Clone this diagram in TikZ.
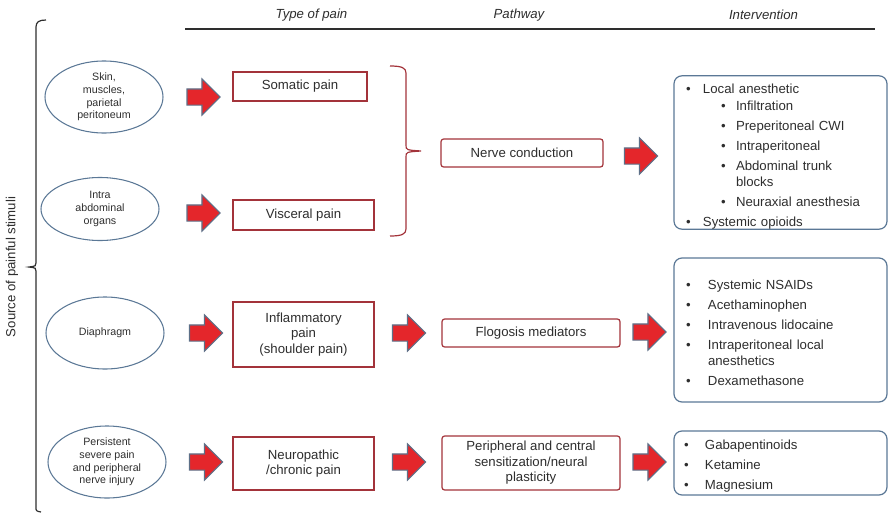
\documentclass[tikz,border=0pt]{standalone}
\usepackage{fontspec}
\setmainfont{Liberation Sans}
\usepackage{tikz}
\usetikzlibrary{positioning,shapes.geometric,shapes.arrows}
\definecolor{cred}{HTML}{A3333A}
\definecolor{cblue}{HTML}{5B7896}
\definecolor{carrow}{HTML}{E4262B}
\definecolor{cedge}{HTML}{5D7088}
\definecolor{ctext}{HTML}{2E2E2E}
\newdimen\pxu \pxu=0.75pt
\newcommand{\bul}[1]{\makebox[#1\pxu][l]{\textbullet}}
\tikzset{
  src/.style={ellipse, draw=cblue, line width=0.8pt, inner sep=0pt, minimum width=118\pxu, minimum height=72\pxu, align=center, font=\fontsize{8}{9.5}\selectfont, text=ctext},
  typen/.style={draw=cred, line width=0.9pt, fill=white, inner sep=0pt, align=center, font=\fontsize{9.9}{11.6}\selectfont, text=ctext},
  pathn/.style={typen, rounded corners=2pt},
  intn/.style={draw=cblue, line width=0.9pt, rounded corners=6pt, inner xsep=0pt, inner ysep=0pt, text width=213\pxu, align=left, font=\fontsize{9.9}{12}\selectfont, text=ctext},
  blk/.style={single arrow, draw=cedge, fill=carrow, line width=0.8pt, inner xsep=0pt, inner ysep=7.5\pxu, minimum height=33\pxu, single arrow head extend=10\pxu},
  hdr/.style={font=\fontsize{9.9}{12}\selectfont\itshape, text=ctext},
  brc/.style={line width=0.9pt},
}
\begin{document}
\begin{tikzpicture}[x=0.75pt,y=-0.75pt]
\useasboundingbox (0,0) rectangle (889,514);
% column titles
\node[hdr] (htype) at (311.5,15) {Type of pain};
\node[hdr] (hpath) at (519,15) {Pathway};
\node[hdr] (hint) at (763.5,15) {Intervention};
\draw[ctext, line width=0.8pt] (185,29) -- (875,29);
% source of stimuli
\node[rotate=90, font=\fontsize{9.9}{12}\selectfont, text=ctext] (srclbl) at (12,267) {Source of painful stimuli};
\draw[brc, ctext] (46,20) .. controls (39,20) and (36,22) .. (36,27) -- (36,263)
  .. controls (36,266) .. (29,267) .. controls (36,268) .. (36,271) -- (36,507)
  .. controls (36,511) .. (41,512);
\node[src] (e1) at (104,97) {Skin,\\muscles,\\parietal\\peritoneum};
\node[src, minimum height=63\pxu] (e2) at (100,209) {Intra\\abdominal\\organs};
\node[src] (e3) at (105,333) {Diaphragm};
\node[src] (e4) at (107,462) {Persistent\\severe pain\\and peripheral\\nerve injury};
% type of pain
\node[typen, minimum width=134\pxu, minimum height=29\pxu] (somatic) at (300,86.5) {Somatic pain};
\node[typen, minimum width=141\pxu, minimum height=30\pxu] (visceral) at (303.5,215) {Visceral pain};
\node[typen, minimum width=141\pxu, minimum height=65\pxu] (inflam) at (303.5,334.5) {Inflammatory\\pain\\(shoulder pain)};
\node[typen, minimum width=141\pxu, minimum height=53\pxu] (neuro) at (303.5,463.5) {Neuropathic\\/chronic pain};
\draw[brc, cred] (390,66) .. controls (402,66) and (406,68) .. (406,73) -- (406,145)
  .. controls (406,150) .. (421,151) .. controls (406,152) .. (406,157) -- (406,229)
  .. controls (406,234) and (402,236) .. (390,236);
% pathway
\node[pathn, minimum width=162\pxu, minimum height=28\pxu] (nerve) at (522,153) {Nerve conduction};
\node[pathn, minimum width=178\pxu, minimum height=28\pxu] (flog) at (531,333) {Flogosis mediators};
\node[pathn, minimum width=178\pxu, minimum height=54\pxu] (sens) at (531,463) {Peripheral and central\\sensitization/neural\\plasticity};
% intervention
\node[intn, minimum height=153\pxu] (iv1) at (780.5,152.5) {%
\rule{0pt}{13pt}\hspace*{12\pxu}\bul{17}Local anesthetic\\[1pt]
\hspace*{47\pxu}\bul{15}Infiltration\\[3pt]
\hspace*{47\pxu}\bul{15}Preperitoneal CWI\\[3pt]
\hspace*{47\pxu}\bul{15}Intraperitoneal\\[3pt]
\hspace*{47\pxu}\bul{15}Abdominal trunk\\
\hspace*{62\pxu}blocks\\[3pt]
\hspace*{47\pxu}\bul{15}Neuraxial anesthesia\\[3pt]
\hspace*{12\pxu}\bul{17}Systemic opioids};
\node[intn, minimum height=144\pxu] (iv2) at (780.5,330) {%
\rule{0pt}{11pt}\hspace*{12\pxu}\bul{22}Systemic NSAIDs\\[3pt]
\hspace*{12\pxu}\bul{22}Acethaminophen\\[3pt]
\hspace*{12\pxu}\bul{22}Intravenous lidocaine\\[3pt]
\hspace*{12\pxu}\bul{22}Intraperitoneal local\\
\hspace*{34\pxu}anesthetics\\[3pt]
\hspace*{12\pxu}\bul{22}Dexamethasone};
\node[intn, minimum height=64\pxu] (iv3) at (780.5,463) {%
\rule{0pt}{12pt}\hspace*{10\pxu}\bul{21}Gabapentinoids\\[3pt]
\hspace*{10\pxu}\bul{21}Ketamine\\[3pt]
\hspace*{10\pxu}\bul{21}Magnesium};
% block arrows
\node[blk] (a1) at (199.5,97) {};
\node[blk] (a2) at (199.5,213) {};
\node[blk] (a3) at (202,333) {};
\node[blk] (a4) at (202,462) {};
\node[blk] (a5) at (637,156) {};
\node[blk] (a6) at (405,333) {};
\node[blk] (a7) at (405,462) {};
\node[blk] (a8) at (645.5,332) {};
\node[blk] (a9) at (645.5,462) {};
\end{tikzpicture}
\end{document}
